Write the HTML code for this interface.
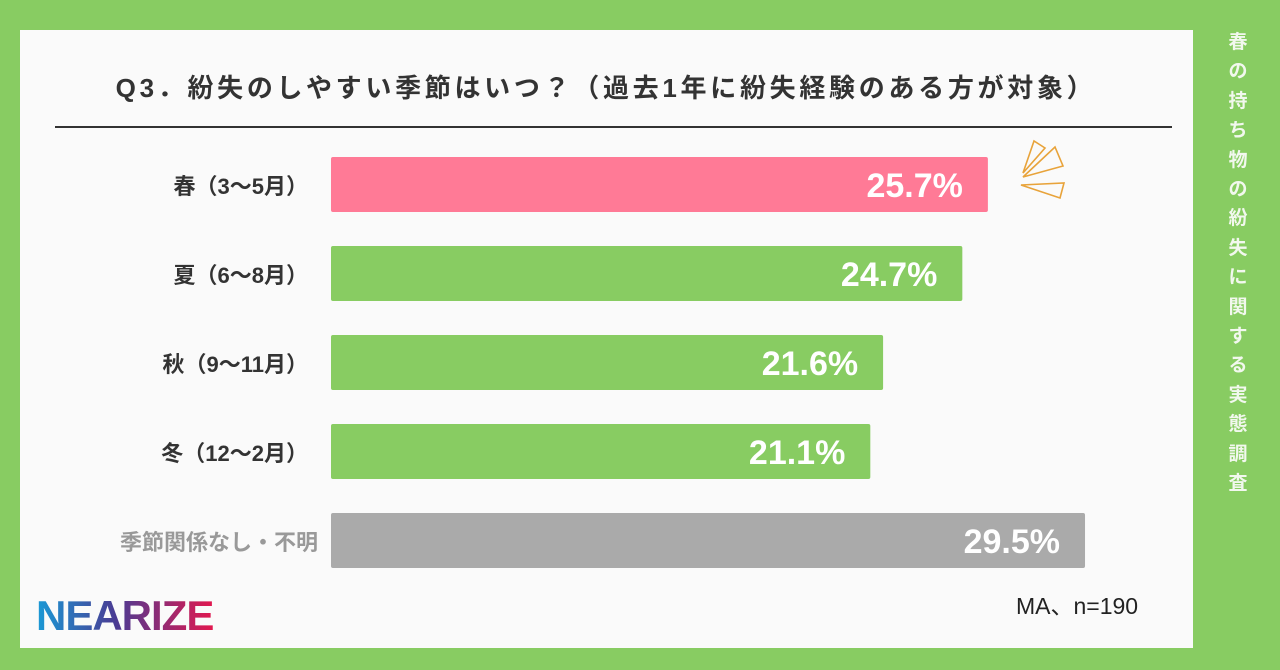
<!DOCTYPE html>
<html><head><meta charset="utf-8"><style>
body{margin:0;width:1280px;height:670px;background:#88cc62;position:relative;overflow:hidden;font-family:"Liberation Sans","Noto Sans CJK JP",sans-serif}
#panel{position:absolute;left:20px;top:30px;width:1173px;height:618px;background:#fafafa}
#title{position:absolute;left:0;top:68px;width:1212px;text-align:center;font-size:26px;font-weight:bold;color:#333;letter-spacing:3.7px}
#rule{position:absolute;left:55px;top:126px;width:1117px;height:2px;background:#333}
#side{position:absolute;left:1226px;top:28px;width:24px;font-size:19px;font-weight:bold;color:#f2f8ee;line-height:29.4px;text-align:center;word-break:break-all}
#logo{position:absolute;left:36px;top:592px;font-size:42px;font-weight:900;letter-spacing:-1px;background:linear-gradient(90deg,#1a9ad6,#4a3b93 45%,#e2184f);-webkit-background-clip:text;background-clip:text;color:transparent}
#note{position:absolute;left:1016px;top:587px;font-size:23px;color:#222}
</style></head><body>
<div id="panel"></div>
<div id="title">Q3．紛失のしやすい季節はいつ？（過去1年に紛失経験のある方が対象）</div>
<div id="rule"></div>
<div id="side">春の持ち物の紛失に関する実態調査</div>
<div id="logo">NEARIZE</div>
<div id="note">MA、n=190</div>
<svg id="chart" width="1280" height="670" style="position:absolute;left:0;top:0">
<g fill="none" stroke="#e8a33a" stroke-width="1.6">
<polygon points="1023,173 1034,141 1045,148"/><polygon points="1023,177 1055,147 1063,166"/><polygon points="1021,185 1064,183 1060,198"/>
</g>
</svg>
<script>
const categories=["春（3〜5月）","夏（6〜8月）","秋（9〜11月）","冬（12〜2月）","季節関係なし・不明"];
const values=[25.7,24.7,21.6,21.1,29.5];
const valueLabels=["25.7%","24.7%","21.6%","21.1%","29.5%"];
const colors=["#ff7a96","#88cc62","#88cc62","#88cc62","#aaaaaa"];
const svg=document.getElementById('chart');
const NS="http://www.w3.org/2000/svg";
const x0=331,pxPer=25.56;
const xs=v=>x0+v*pxPer;
const ys=i=>157+i*89;
categories.forEach((c,i)=>{
  const r=document.createElementNS(NS,'rect');
  r.setAttribute('x',x0);r.setAttribute('y',ys(i));r.setAttribute('width',xs(values[i])-x0);r.setAttribute('height',55);r.setAttribute('rx',2);r.setAttribute('fill',colors[i]);
  
  
  svg.appendChild(r);
  const t=document.createElementNS(NS,'text');
  t.setAttribute('x',xs(values[i])-25);t.setAttribute('y',ys(i)+40);t.setAttribute('text-anchor','end');
  t.setAttribute('font-size','34');t.setAttribute('font-weight','bold');t.setAttribute('fill','#fff');
  t.textContent=valueLabels[i];
  
  
  svg.appendChild(t);
  const l=document.createElementNS(NS,'text');
  l.setAttribute('x',i==4?318:308);l.setAttribute('y',ys(i)+37);l.setAttribute('text-anchor','end');
  l.setAttribute('font-size','22');l.setAttribute('font-weight','bold');l.setAttribute('fill',i==4?'#999':'#333');
  l.textContent=c;
  
  
  svg.appendChild(l);
});
</script>
</body></html>
